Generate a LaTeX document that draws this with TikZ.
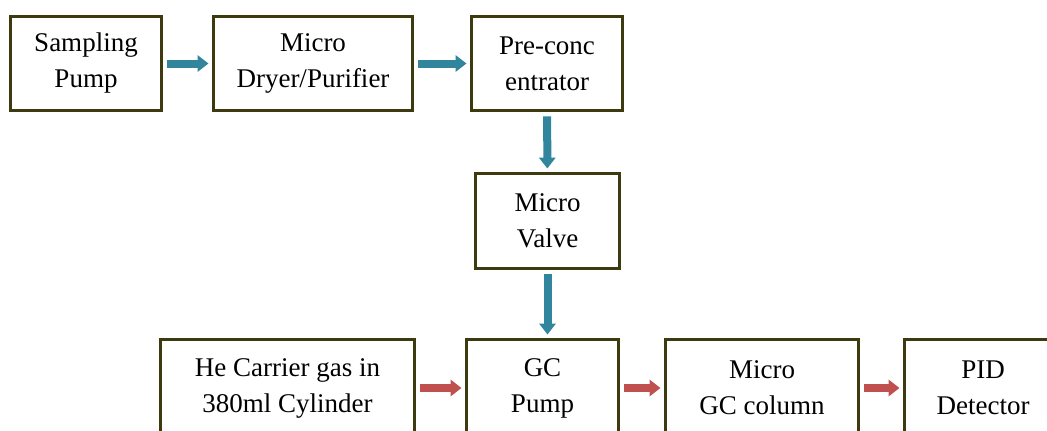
\documentclass[tikz,border=0pt]{standalone}
\usepackage{fontspec}
\setmainfont{Liberation Serif}
\newfontfamily\boxfont{Liberation Serif}
\usetikzlibrary{arrows.meta}
\definecolor{boxline}{RGB}{60,58,14}
\definecolor{flowblue}{RGB}{49,133,156}
\definecolor{flowred}{RGB}{192,80,77}
\begin{document}
\begin{tikzpicture}[x=0.025cm, y=-0.025cm,
    unit/.style={draw=boxline, line width=0.075cm, fill=white, align=center, inner sep=0pt,
      minimum height=2.33cm, font=\boxfont\fontsize{19.2pt}{25.6pt}\selectfont},
    flow/.style={line width=0.2cm, -{Triangle[length=0.27cm, width=0.4cm]},
      shorten <=0.12cm, shorten >=0.1cm},
    gasflow/.style={flow, draw=flowblue},
    heflow/.style={flow, draw=flowred}]
    \useasboundingbox (0,0) rectangle (1047,430);
    % sample line
    \node[unit, minimum width=3.75cm] (samp) at (86,63.5) {Sampling\\Pump};
    \node[unit, minimum width=4.95cm] (dryer) at (313,63.5) {Micro\\Dryer/Purifier};
    \node[unit, minimum width=3.75cm] (precon) at (547,63.5) {Pre-conc\\entrator};
    \node[unit, minimum width=3.575cm, minimum height=2.35cm] (valve) at (547.5,221) {Micro\\Valve};
    % carrier gas line
    \node[unit, minimum width=6.325cm, minimum height=2.4cm] (he) at (287.5,388) {He Carrier gas in\\380ml Cylinder};
    \node[unit, minimum width=3.775cm, minimum height=2.4cm] (gcpump) at (542.5,388) {GC\\Pump};
    \node[unit, minimum width=4.8cm, minimum height=2.4cm] (column) at (762,388) {Micro\\GC column};
    \node[unit, minimum width=3.9cm, minimum height=2.4cm] (pid) at (983,388) {PID\\Detector};
    \draw[gasflow] (samp) -- (dryer);
    \draw[gasflow] (dryer) -- (precon);
    \draw[gasflow] (precon) -- (valve);
    \draw[gasflow] (valve.south) -- (valve.south |- gcpump.north);
    \draw[heflow] (he) -- (gcpump);
    \draw[heflow] (gcpump) -- (column);
    \draw[heflow] (column) -- (pid);
\end{tikzpicture}
\end{document}
